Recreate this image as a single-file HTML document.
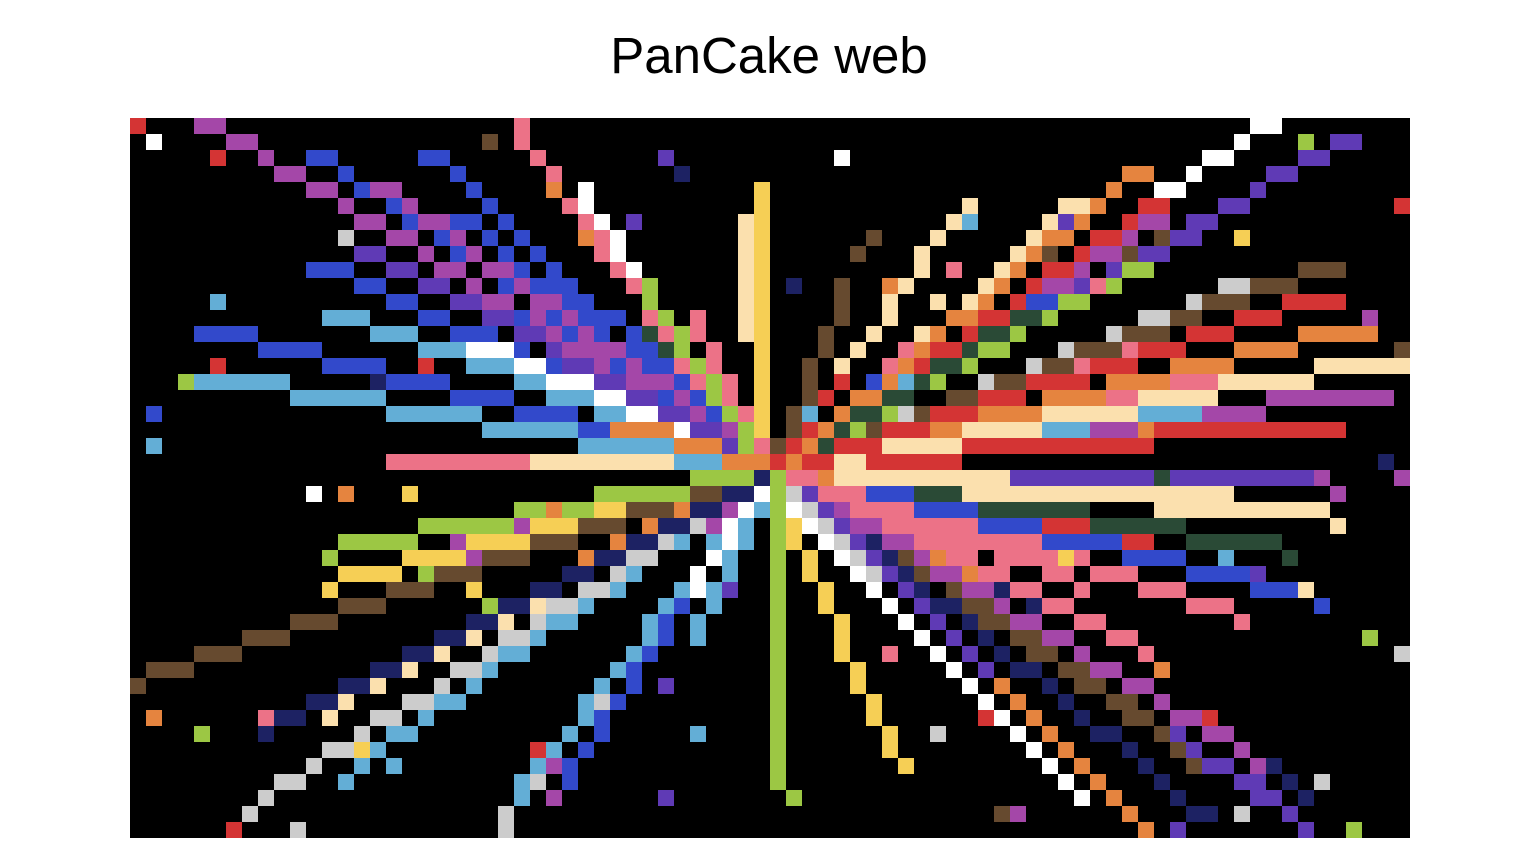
<!DOCTYPE html>
<html><head><meta charset="utf-8"><style>
html,body{margin:0;padding:0;background:#fff;}
#wrap{position:relative;width:1538px;height:860px;overflow:hidden;}
#title{position:absolute;left:0;width:1538px;top:26px;text-align:center;font-family:"Liberation Sans",Arial,sans-serif;font-size:51px;line-height:60px;color:#000;}
svg{position:absolute;left:0;top:0;}
</style></head><body>
<div id="wrap">
<div id="title">PanCake web</div>
<svg id="chart" width="1538" height="860"></svg>
</div>
<script>
const nCols = 80;
const nRows = 45;
const palette = {R:"#d43434",M:"#a447a8",B:"#3249cb",V:"#5f3ab5",N:"#1d2263",C:"#63aed6",P:"#ec7287",O:"#e5843f",F:"#fbe0ae",Y:"#f6cf55",G:"#9cc744",D:"#2a4a36",T:"#664a2f",L:"#cccccc",W:"#ffffff"};
const rowRuns = [
"R0 M4-5 P24 W70-71",
"W1 M6-7 T22 P24 W69 G73 V75-76",
"R5 M8 B11-12 B18-19 P25 V33 W44 W67-68 V73-74",
"M9-10 B13 B20 P26 N34 O62-63 W66 V71-72",
"M11-12 B14 M15-16 B21 O26 W28 Y39 O61 W64-65 V70",
"M13 B16 M17 B22 P27 W28 Y39 F52 F58-59 O60 R63-64 V68-69 R79",
"M14-15 B17 M18-19 B20-21 B23 P28 W29 V31 F38 Y39 F51 C52 F57 V58 O59 R62 M63-64 V66-67",
"L13 M16-17 B19 M20 B22 B24 O28 P29 W30 F38 Y39 T46 F50 F56 O57-58 R60-61 M62 T64 V65-66 Y69",
"V14-15 M18 B20 M21 B23 B25 P29 W30 F38 Y39 T45 F49 F55 O56 T57 R59 M60-61 T62 V63-64",
"B11-13 V16-17 M19-20 M22-23 B24 B26 P30 W31 F38 Y39 F49 P51 F54 O55 R57-58 M59 V61 G62-63 T73-75",
"B14-15 V18-19 M21 B23 M24 B25-27 P31 G32 F38 Y39 N41 T44 O47 F48 F53 O54 R56 M57-58 V59 P60 G61 L68-69 T70-72",
"C5 B16-17 V20-21 M22-23 M25-26 B27-28 G32 F38 Y39 T44 F47 F50 F52 O53 R55 B56-57 G58-59 L66 T67-69 R72-75",
"C12-14 B18-19 V22-23 B24 M25 B26 M27 B28-30 P32 G33 P35 F38 Y39 T44 F47 O51-52 R53-54 D55-56 G57 L63-64 T65-66 R69-71 M77",
"B4-7 C15-17 B20-22 V24-25 M26 B27 M28 B29 B31 D32 P33 G34 P35 F38 Y39 T43 F46 F49 O50 R52 D53-54 G55 L61 T62-64 R66-68 O73-77",
"B8-11 C18-20 W21-23 B24 V26 M27-30 B31-32 D33 G34 P36 Y39 T43 F45 P48 O49 R50-51 D52 G53-54 L58 T59-61 P62 R63-65 O69-72 T79",
"R5 B12-15 R18 C21-23 W24-25 B26 V27-28 M29 B30 M31 B32-33 P34 G35 P36 Y39 T42 F44 P47 O48 R49 D50-51 G52 L56 T57-58 P59 R60-62 O65-68 F74-79",
"G3 C4-9 N15 B16-19 C24-25 W26-28 V29-30 M31-33 B34 P35 G36 P37 Y39 T42 R44 B46 O47 C48 D49 G50 L53 T54-55 R56-59 O61-64 P65-67 F68-73",
"C10-15 B20-23 C26-28 W29-30 V31-32 B33 M34 B35 G36 P37 Y39 T42 R43 O45-46 D47-48 T51-52 R53-55 O57-60 P61-62 F63-67 M71-78",
"B1 C16-21 B24-27 C29-30 W31-32 V33-34 M35 B36 G37 P38 Y39 T41 C42 O44 D45-46 G47 L48 T49 R50-52 O53-56 F57-62 C63-66 M67-70",
"C22-27 B28-29 O30-33 W34 V35-36 M37 G38 Y39 T41 R42 O43 D44 G45 T46 R47-49 O50-51 F52-56 C57-59 M60-62 O63 R64-75",
"C1 C28-33 O34-36 V37 G38 P39 T40 R41 O42 D43 R44-46 F47-51 R52-63",
"P16-24 F25-33 C34-36 O37-39 R40 O41 R42-43 F44-45 R46-51 N78",
"G35-38 N39 G40 P41-42 O43 F44-54 V55-63 D64 V65-73 M74 M79",
"W11 O13 Y17 G29-34 T35-36 N37-38 W39 G40 L41 V42 P43-45 B46-48 D49-51 F52-68 M75",
"G24-25 O26 G27-28 Y29-30 T31-33 O34 N35-36 M37 W38 C39 G40 W41 L42 V43 M44 P45-48 B49-52 D53-59 F64-74",
"G18-23 M24 Y25-27 T28-30 O32 N33-34 L35 M36 W37 C38 G40 Y41 W42 L43 V44 M45-46 P47-52 B53-56 R57-59 D60-65 F75",
"G13-17 M20 Y21-24 T25-27 O30 N31-32 L33 C34 C36 W37 C38 G40 Y41 W43 L44 V45 N46 M47-48 P49-56 B57-61 R62-63 D66-71",
"G12 Y17-20 M21 T22-24 O28 N29-30 L31-32 W36 C37 G40 Y42 W44 L45 V46 N47 T48 M49 O50 P51-52 P54-57 Y58 P59 B62-65 C68 D72",
"Y13-16 G18 T19-21 N27-28 L30 C31 W35 C37 G40 Y42 W45 L46 V47 N48 T49 M50-51 O52 P53-54 P57-58 P60-62 B66-69 V70",
"Y12 T16-18 Y21 N25-26 L28-29 C30 C34 W35 C36 V37 G40 Y43 W46 V48 N49 T51 M52-53 N54 P55-56 P59 P63-65 B70-72 F73",
"T13-15 G22 N23-24 F25 L26-27 C28 C33 B34 C36 G40 Y43 W47 V49 N50-51 T52-53 M54 N56 P57-58 P66-68 B74",
"T10-12 N21-22 F23 L25 C26-27 C32 B33 C35 G40 Y44 W48 V50 N52 T53-54 M55-56 P59-60 P69",
"T7-9 N19-20 F21 L23-24 C25 C32 B33 C35 G40 Y44 W49 V51 N53 T55-56 M57-58 P61-62 G77",
"T4-6 N17-18 F19 L22 C23-24 C31 B32 G40 Y44 P47 W50 V52 N54 T56-57 M59 P63 L79",
"T1-3 N15-16 F17 L20-21 C22 C30 B31 G40 Y45 W51 V53 N55-56 T58-59 M60-61 O64",
"T0 N13-14 F15 L19 C21 C29 B31 V33 G40 Y45 W52 O54 N57 T59-60 M62-63",
"N11-12 F13 L17-18 C19-20 C28 L29 B30 G40 Y46 W53 O55 N58 T61-62 M64",
"O1 P8 N9-10 F12 L15-16 C18 C28 B29 G40 Y46 R53 W54 O56 N59 T62-63 M65-66 R67",
"G4 N8 L14 C16-17 C27 B29 C35 G40 Y47 L50 W55 O57 N60-61 T64 V65 M67-68",
"L12-13 Y14 C15 R25 C26 B28 G40 Y47 W56 O58 N62 T65 V66 M69",
"L11 C14 C16 C25 M26 B27 G40 Y48 W57 O59 N63 T66 V67-68 M70 N71",
"L9-10 C13 C24 L25 B27 G40 W58 O60 N64 V69-70 N72 L74",
"L8 C24 M26 V33 G41 W59 O61 N65 V70-71 N73",
"L7 L23 T54 M55 O62 N66-67 L69 V72",
"R6 L10 L23 O63 V65 V73 G76"
];

const plot = {x:130, y:118, w:1280, h:720};
const NS = "http://www.w3.org/2000/svg";
const svg = document.getElementById('chart');
function xScale(c){ return plot.x + c * plot.w / nCols; }
function yScale(r){ return plot.y + r * plot.h / nRows; }
const bg = document.createElementNS(NS,'rect');
bg.setAttribute('x',plot.x);bg.setAttribute('y',plot.y);bg.setAttribute('width',plot.w);bg.setAttribute('height',plot.h);bg.setAttribute('fill','#000');


svg.appendChild(bg);
rowRuns.forEach(function(line, r){
  line.split(' ').filter(Boolean).forEach(function(tok){
    const code = tok[0];
    const parts = tok.slice(1).split('-');
    const c0 = parseInt(parts[0],10);
    const c1 = parts.length>1 ? parseInt(parts[1],10) : c0;
    const rect = document.createElementNS(NS,'rect');
    rect.setAttribute('x', xScale(c0));
    rect.setAttribute('y', yScale(r));
    rect.setAttribute('width', xScale(c1+1)-xScale(c0));
    rect.setAttribute('height', yScale(r+1)-yScale(r));
    rect.setAttribute('fill', palette[code]);
    
    
    svg.appendChild(rect);
  });
});
</script>
</body></html>
